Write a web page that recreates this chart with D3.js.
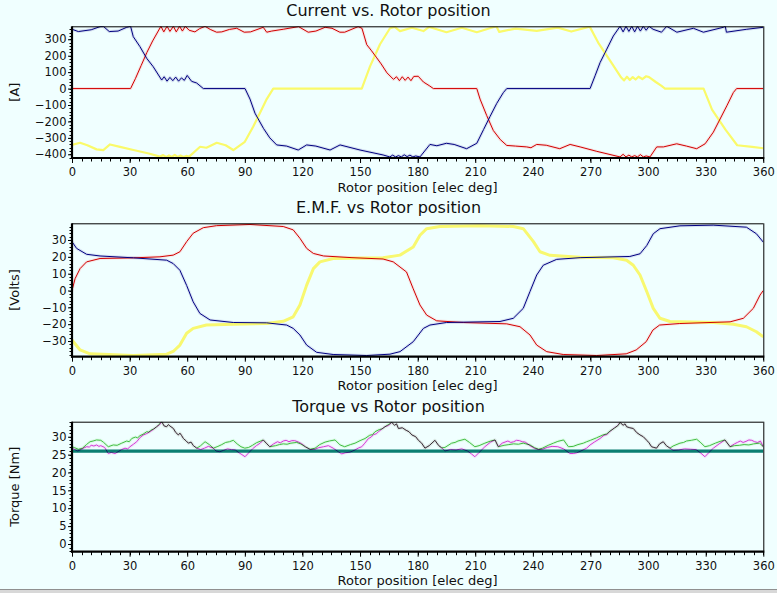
<!DOCTYPE html>
<html><head><meta charset="utf-8">
<script src="https://cdn.jsdelivr.net/npm/d3@7"></script>
<style>
html,body{margin:0;padding:0;background:#F0FFFF;}
svg{display:block;font-family:"DejaVu Sans",Verdana,sans-serif;}
</style></head>
<body><svg id="c" width="777" height="593"></svg>
<script>
// ---------- DATA ----------
const xTickLabels = [0,30,60,90,120,150,180,210,240,270,300,330,360];
const currentTicks = [300,200,100,0,-100,-200,-300,-400];
const emfTicks = [30,20,10,0,-10,-20,-30];
const torqueTicks = [30,25,20,15,10,5,0];
const titles = ["Current vs. Rotor position","E.M.F. vs Rotor position","Torque vs Rotor position"];
const yLabels = ["[A]","[Volts]","Torque [Nm]"];
const xLabel = "Rotor position [elec deg]";

// Phase currents [deg, A]
const currentRed = [[0,0],[30.5,0],[33,60],[36,140],[39,220],[42,290],[46.3,379],[47.8,345],[49.5,379],[51,348],[52.8,379],[54.3,345],[56,379],[57.5,350],[59,379],[61,355],[64,345],[66.5,365],[69.3,379],[72,360],[75.3,343],[78,345],[82,360],[85.8,367],[89.7,343],[93,345],[99.6,373],[101.4,343],[104,350],[110,361],[118,377],[123,343],[127,350],[131.8,373],[135.4,367],[139.5,343],[142,343],[149,377],[151,367],[153.5,267],[156,230],[158.7,187],[161,150],[164,96],[167.4,56],[169,72],[170.5,48],[172,72],[173.5,50],[175,70],[176.5,48],[178,74],[180.3,75],[183,40],[186,18],[188.2,0],[210.8,0],[212.5,-64],[216,-165],[219.4,-255],[223,-310],[226.4,-346],[231,-350],[236.8,-355],[239,-360],[242,-340],[247,-345],[254,-366],[259.4,-340],[264.6,-355],[273.3,-382],[285.4,-416],[287,-400],[288.5,-416],[290,-405],[291.5,-416],[293,-408],[294.5,-416],[296,-402],[297.5,-416],[299,-410],[301,-416],[304.5,-355],[308,-355],[314.9,-336],[320,-350],[325.3,-366],[329.7,-336],[334,-265],[337.5,-185],[341,-105],[344.4,-24],[346.1,0],[360,0]];
const currentBlue = [[0,361],[3.3,347],[10,358],[14.6,377],[16.3,379],[19.4,347],[24,350],[28.5,373],[30.5,379],[31.9,316],[35.4,255],[38.9,184],[42.3,133],[46.7,52],[48,72],[49.5,45],[51,68],[52.5,48],[54,70],[55.5,45],[57,65],[58.5,50],[60,80],[62.3,44],[64.9,34],[68.4,0],[90.1,0],[92.7,-64],[95.3,-150],[99.7,-242],[103,-300],[106.6,-343],[111.8,-350],[117.8,-374],[122.2,-343],[127,-350],[134.4,-374],[139.6,-343],[150,-374],[162,-404],[165.5,-416],[167,-405],[168.5,-416],[170,-408],[171.5,-416],[173,-403],[174.5,-414],[176,-405],[177.5,-416],[179,-410],[181.2,-416],[186.4,-340],[190,-348],[195,-333],[199,-340],[205.5,-366],[210.8,-333],[214.3,-250],[217.7,-170],[221.2,-90],[224.6,-25],[226.4,0],[269.8,0],[272.4,78],[275,158],[278.5,240],[281.9,320],[285.4,379],[287,345],[288.5,379],[290,348],[291.5,379],[293,345],[294.5,379],[296,350],[297.5,379],[299,355],[300.5,379],[302.6,361],[307,343],[309.7,379],[315,343],[323.6,367],[328.8,343],[339.2,373],[340.2,379],[340.8,343],[351.4,361],[360,373]];
const currentYellow = [[0,-343],[4.2,-330],[8,-345],[12.8,-370],[16.3,-374],[19.8,-340],[25,-355],[32,-374],[40,-395],[45.8,-414],[47.5,-405],[49,-416],[50.5,-407],[52,-416],[53.5,-404],[55,-416],[56.5,-408],[58,-416],[59.5,-410],[61,-414],[66.7,-354],[70,-360],[75.4,-330],[80,-345],[84,-374],[90,-324],[94.4,-231],[97.8,-150],[101.4,-64],[104.8,0],[150.9,0],[155.2,135],[160.4,270],[165.6,367],[168,375],[170.8,350],[177,370],[183,350],[186,375],[195,343],[203,370],[210.8,343],[221,379],[222.5,345],[231,365],[242,351],[253,371],[260,347],[269.6,377],[274,280],[280.9,158],[286,67],[287.5,50],[289,72],[290.5,52],[292,70],[293.5,55],[295,72],[297,58],[299,75],[300.5,70],[304,40],[307,16],[308.8,0],[328.9,0],[333.3,-128],[340.3,-250],[346.4,-345],[354.2,-355],[360,-363]];

// Back EMF [deg, V]
const emfRed = [[0,0],[1.6,7],[4.2,13],[7.6,17],[14.6,19],[32,19.4],[45.8,20],[52.7,21],[56.2,23],[59.7,29],[63.1,34],[68.4,37.3],[75.3,38.5],[92.7,39.2],[110,38],[115.2,36],[118.7,31],[122.2,25],[125.7,22],[131,20.5],[145.8,19.5],[162,18.7],[167.3,17],[174.2,11],[177.7,1],[181.2,-8.6],[184.7,-14.6],[189.9,-18],[203.8,-19],[226.4,-19.8],[233.3,-21.5],[238.5,-26.4],[242,-32.4],[247.2,-36.3],[255.8,-38],[273.2,-38.6],[288.6,-37.6],[293.8,-35.3],[299,-30.4],[302.5,-23.5],[306,-20.5],[316.5,-19.6],[342.7,-18.6],[349.6,-16.5],[354.8,-10.6],[358.3,-2.7],[360,0]];
const emfBlue = [[0,29],[2.4,25],[7.6,21.5],[14.6,20.5],[32,19.4],[49.3,18],[52.7,16],[56.2,12],[59.7,3],[63.1,-6.7],[66.6,-13.6],[71.9,-17.5],[84,-19],[101.4,-19.2],[111.8,-20.5],[115.2,-22.5],[118.7,-26.4],[122.2,-32.4],[127.4,-36.7],[136,-38],[153.5,-38.6],[165.6,-37.8],[170.8,-36.3],[177.7,-30.4],[183,-22.5],[186.4,-20.5],[195,-19],[222.9,-18.4],[229.8,-16.5],[235,-10.6],[238.5,-0.6],[242,9.2],[245.4,15],[252.4,18.5],[264.6,19.5],[290.5,20.2],[295.8,21.8],[299.3,26.7],[302.7,33.7],[306.2,36.7],[316.6,38.4],[333.9,38.8],[351.2,37.6],[356.4,33.7],[360,28.7]];
const emfYellow = [[0,-29.4],[4.2,-35.3],[9.4,-37.6],[32,-38.6],[49.3,-37.8],[52.7,-36.2],[56.2,-32.4],[59.7,-25.4],[63.1,-22.5],[70,-20.5],[84,-20],[101.4,-19.6],[110,-18.3],[115.2,-15.6],[118.7,-8.6],[122.2,3.2],[125.7,13],[129.1,17],[136,19],[162,19.4],[170.8,21],[177.7,25.8],[181.2,32.8],[184.7,36.7],[191.6,38],[212.4,38.5],[229.8,38],[235,36.7],[240.3,29],[243.7,23],[248.9,20.9],[264.6,19.8],[281.9,19.4],[288.8,18],[292.3,15],[295.8,9.2],[299.3,-0.6],[302.7,-10.6],[306.2,-16.5],[311.4,-18.4],[334,-19],[344.4,-20],[351.2,-21.5],[356.4,-24.5],[360,-27.5]];

// Torque [deg, Nm]
const torqueMagenta = [[0,26.8],[1.5,26.4],[3,26],[5,26.5],[6.3,26.9],[7.6,27.2],[9,27.1],[10,27.6],[11.4,27.4],[12.8,27.7],[14,27.3],[15,27.5],[17,27],[18.9,25.3],[20.5,25.6],[22.4,25.3],[24,25.8],[25.8,26.4],[27.6,26.8],[29,26.6],[30.2,27.2],[32,27.9],[33.7,28.6],[35.5,29.8],[37.2,30.5],[39,30.9],[40.6,31.4],[42.5,32.1],[44.1,32.8],[45.5,33.3],[46.7,34.2],[48,33],[49.3,32.8],[50.2,33.4],[51,33],[52.8,32.3],[54,31.2],[55.4,30.5],[56.2,31],[57,30.4],[58,29.5],[59.5,28.8],[60.6,28.2],[62,28.5],[63.2,27.5],[65,26.8],[67,26.4],[69,26.8],[71,27.3],[73.6,26.8],[75,26],[77,25.8],[79,26.2],[81,26.6],[83,26.4],[85,26.3],[87,25.5],[88.5,25],[90.1,24.4],[92,25.5],[94,26.6],[96,27.5],[98,28.2],[99.6,29.1],[101.5,28],[103,27.2],[105,28],[107,28.6],[108.5,28.3],[110,28.8],[111.5,29],[113,28.6],[114.5,28.9],[116,28.9],[118,28.5],[119.7,28],[121.5,27.2],[124,26.4],[126.6,26.5],[128.3,26.9],[131,27.2],[133.5,27.5],[136,26.8],[138.7,25.8],[140.5,25.2],[142.2,25.5],[144.8,25.7],[147.4,26.3],[149,26.8],[150.9,27.2],[152.5,28.2],[154.4,29.5],[155.8,29.9],[157,30.6],[158.4,30.8],[159.6,31.4],[161,32],[163,32.8],[165,33.2],[166.5,34],[168,33.2],[169,33.6],[170,32.3],[172,32.5],[174,31.8],[175.5,31.4],[177,30.5],[179,30],[180.4,29],[182.1,28.2],[183.8,26.8],[186,27.5],[189,29],[191,27.5],[192.5,26.9],[194.2,26],[197,26.4],[200,26.3],[203,26.6],[206,26],[208,25.2],[209.8,24.4],[212,25.6],[215,27.2],[218,28.5],[220.3,29.1],[222,27.2],[224,28.2],[225.5,28.5],[227,28.8],[228.5,28.4],[230,28.6],[231.5,29],[233,28.9],[234.5,28.6],[236,28.5],[238.5,27.5],[241,26.7],[243,26.4],[245,26.5],[247.5,27],[250,27.3],[253,27.2],[256,26.6],[259.3,25.3],[261,25.3],[262.8,25.5],[265,26],[268,26.8],[269.8,27.7],[272,28.5],[275,29.5],[277,30.4],[278.5,30.6],[280,31.4],[282.5,32.5],[284,33],[285.4,34],[287,33.2],[288,33.6],[288.8,32.8],[290.5,32.5],[292.3,32.3],[294,31.2],[295.8,30.5],[297.5,30],[299.3,29],[300.5,28.3],[301.8,27.2],[303,27],[304.4,26.8],[306,28],[307.9,28.6],[309.5,27.5],[311.4,26.8],[313,26.2],[316,26.3],[319,26.6],[322,26.5],[325,26.4],[327.5,25.4],[329.6,24.4],[331.5,25.5],[334,26.8],[337,28],[340,29.1],[342.7,27.2],[345,28],[346.5,28.4],[348,28.8],[349.5,28.4],[351,28.7],[352.5,29.1],[354,29],[355.5,28.6],[357,28.4],[358.5,28.8],[360,27.2]];
const torqueGreen = [[0,27.2],[1.5,26.9],[3.3,26.5],[5.5,26.8],[7.5,27.8],[9.4,28.6],[11,28.8],[12.8,29.1],[15,29],[16.5,28.4],[18.9,27.2],[21.5,27.7],[23.5,27.6],[25.9,28.2],[28.5,28.8],[29.8,28.6],[31.1,29.5],[33,29.9],[34.2,29.7],[35.4,30.3],[37,30.7],[38.9,31.4],[40,31.3],[41,31.8],[42.6,32.2],[44.1,32.8],[45.8,33.7],[46.7,34.2],[48,33],[49.3,32.8],[50.2,33.4],[51,33],[52.8,32.3],[54,31.2],[55.4,30.5],[56.2,31],[57,30.4],[58,29.5],[59.5,28.8],[60.6,28.2],[62,28.5],[63.2,27.5],[65,26.8],[67,27.5],[69.3,28.6],[71.5,27.8],[73.6,26.8],[76,27.3],[78,27.8],[80,28.4],[82,28.6],[84,29],[86,28],[88,27.2],[90,26.8],[92,27],[94,27.6],[96,28.3],[99.6,29.1],[101.5,28],[103,27.2],[106,27.5],[108,27.8],[110,28],[112,27.9],[114,28.2],[117,28.4],[119,28],[121.5,27.2],[124,26.5],[126.6,26.8],[129,27.8],[131.8,28.5],[134,28.8],[137,29.1],[139.6,27.7],[142,27.2],[145,27.8],[147.4,28.2],[150,28.9],[152.6,29.5],[155,30.4],[156.5,30.6],[157.8,31.4],[160,32],[161.5,32.2],[163,32.8],[166.5,34],[168,33.2],[169,33.6],[170,32.3],[172,32.5],[174,31.8],[175.5,31.4],[177,30.5],[179,30],[180.4,29],[182.1,28.2],[183.8,26.8],[186,27.5],[189,29],[191,27.5],[192.5,26.9],[194.2,27],[197.7,28.2],[199.5,28.4],[201,28.8],[204.6,29.3],[207,28.4],[209.8,27.2],[212,27.5],[215,28.2],[218,28.8],[220.3,29.1],[222,27.2],[225,27.6],[227.5,27.8],[230,28],[232.5,27.9],[235,28.2],[238.5,27.7],[241,26.9],[243,26.5],[245,26.8],[248,27.6],[250.7,28.2],[253,28.7],[256,29.1],[258.5,27.2],[261,27.3],[263.5,27.8],[266.3,28.2],[268,28.6],[270,29],[273.2,29.7],[276.5,30.5],[278.5,30.8],[280.2,31.6],[282.5,32.4],[284.5,33.2],[285.4,34],[287,33.2],[288,33.6],[288.8,32.8],[290.5,32.5],[292.3,32.3],[294,31.2],[295.8,30.5],[297.5,30],[299.3,29],[300.5,28.3],[301.8,27.2],[303,27],[304.4,26.8],[306,28],[307.9,28.6],[309.5,27.5],[311.4,26.8],[313,27.4],[316.6,28.2],[318.5,28.4],[320,28.8],[322.5,29],[325.3,29.3],[327.5,28.3],[329.6,27.2],[332,27.5],[335,28.2],[337.5,28.7],[340,29.1],[342.7,27.2],[345,27.5],[347.5,27.6],[350,27.8],[352.5,27.7],[355,28],[358,28.2],[360,27.2]];
const torqueAverage = [[0,26],[360,26]];

// ---------- DRAWING ----------
const svg = d3.select("#c");
svg.append("rect").attr("width",777).attr("height",593).attr("fill","#F0FFFF");

const X0 = 72, X1 = 763.3;
const panels = [
  {top:26.3, bottom:158, dom:[-422.5,379], ticks:currentTicks, minor:20,
   series:[{d:currentYellow,c:"#FAFA6A",w:2.2},{d:currentRed,c:"#D00000",w:1,halo:"#FF9090"},{d:currentBlue,c:"#000080",w:1,halo:"#8080C0"}]},
  {top:223.3, bottom:356.7, dom:[-39.3,39.9], ticks:emfTicks, minor:2,
   series:[{d:emfYellow,c:"#F8F870",w:3},{d:emfRed,c:"#D00000",w:1,halo:"#FFA0A0"},{d:emfBlue,c:"#000080",w:1,halo:"#9090D0"}]},
  {top:421.7, bottom:551.7, dom:[-2.15,34.2], ticks:torqueTicks, minor:1,
   series:[{d:torqueAverage,c:"#0B7F72",w:3.2},{d:torqueMagenta,c:"#D840D8",w:1,blend:true,halo:"#F0A0F0"},{d:torqueGreen,c:"#48C048",w:1,blend:true,halo:"#A0F0A0"}]}
];

panels.forEach((p,i)=>{
  const x = d3.scaleLinear().domain([0,360]).range([X0,X1]);
  const y = d3.scaleLinear().domain(p.dom).range([p.bottom,p.top]);
  const g = svg.append("g");
  const cid = "clip"+i;
  svg.append("clipPath").attr("id",cid).append("rect")
    .attr("x",X0).attr("y",p.top).attr("width",X1-X0).attr("height",p.bottom-p.top);

  // title
  g.append("text").attr("x",388.5).attr("y",p.top-10).attr("text-anchor","middle")
    .attr("font-size",16).attr("fill","#111").text(titles[i]);

  // lines
  const line = d3.line().x(d=>x(d[0])).y(d=>y(d[1]));
  const lg = g.append("g").attr("clip-path",`url(#${cid})`).style("isolation","isolate");
  p.series.forEach(s=>{
    if(s.halo){
      lg.append("path").attr("d",line(s.d)).attr("fill","none").attr("stroke",s.halo)
        .attr("stroke-width",3).attr("stroke-opacity",0.25).attr("stroke-linejoin","round");
    }
  });
  p.series.forEach(s=>{
    const pth = lg.append("path").attr("d",line(s.d)).attr("fill","none").attr("stroke",s.c)
      .attr("stroke-width",s.w).attr("stroke-linejoin","round");
    if(s.blend) pth.style("mix-blend-mode","multiply");
  });

  // frame: top/right thin
  g.append("line").attr("x1",X0).attr("x2",X1).attr("y1",p.top+0.5).attr("y2",p.top+0.5).attr("stroke","#000").attr("stroke-width",1);
  g.append("line").attr("x1",X1+0.5).attr("x2",X1+0.5).attr("y1",p.top).attr("y2",p.bottom).attr("stroke","#000").attr("stroke-width",1);

  // minor ticks
  const [lo,hi] = p.dom;
  const mticks = d3.range(Math.ceil(lo/p.minor)*p.minor, hi+1e-9, p.minor);
  g.append("g").selectAll("line").data(mticks).join("line")
    .attr("x1",X0-2.5).attr("x2",X0).attr("y1",d=>Math.round(y(d))+0.5).attr("y2",d=>Math.round(y(d))+0.5)
    .attr("stroke","#000").attr("stroke-width",1);
  const xm = d3.range(0,361,5);
  g.append("g").selectAll("line").data(xm).join("line")
    .attr("x1",d=>Math.round(x(d))+0.5).attr("x2",d=>Math.round(x(d))+0.5)
    .attr("y1",p.bottom).attr("y2",p.bottom+3.5)
    .attr("stroke","#000").attr("stroke-width",1);

  // axes
  const ya = d3.axisLeft(y).tickValues(p.ticks).tickSize(4).tickPadding(1.5);
  const yg = g.append("g").attr("transform",`translate(${X0},0)`).call(ya);
  const xa = d3.axisBottom(x).tickValues(xTickLabels).tickSize(5).tickPadding(5);
  const xg = g.append("g").attr("transform",`translate(0,${p.bottom})`).call(xa);
  [yg,xg].forEach(a=>{
    a.select(".domain").remove();
    a.selectAll("text").attr("font-size",11.5).attr("fill","#111").attr("font-family","DejaVu Sans, Verdana, sans-serif");
    a.selectAll(".tick line").attr("stroke","#000");
  });
  // thick left/bottom axis lines
  g.append("line").attr("x1",X0).attr("x2",X0).attr("y1",p.top).attr("y2",p.bottom+1).attr("stroke","#000").attr("stroke-width",2.2);
  g.append("line").attr("x1",X0-1).attr("x2",X1+1).attr("y1",p.bottom).attr("y2",p.bottom).attr("stroke","#000").attr("stroke-width",2.2);

  // axis labels
  g.append("text").attr("x",(X0+X1)/2).attr("y",p.bottom+33.5).attr("text-anchor","middle")
    .attr("font-size",13).attr("fill","#111").text(xLabel);
  g.append("text").attr("transform",`translate(19,${(p.top+p.bottom)/2}) rotate(-90)`)
    .attr("text-anchor","middle").attr("font-size",13).attr("fill","#111").text(yLabels[i]);
});

// bottom window edge
svg.append("rect").attr("x",0).attr("y",589).attr("width",777).attr("height",4).attr("fill","#D8D8D8");
svg.append("line").attr("x1",0).attr("x2",777).attr("y1",589.5).attr("y2",589.5).attr("stroke","#909090");
</script></body></html>
